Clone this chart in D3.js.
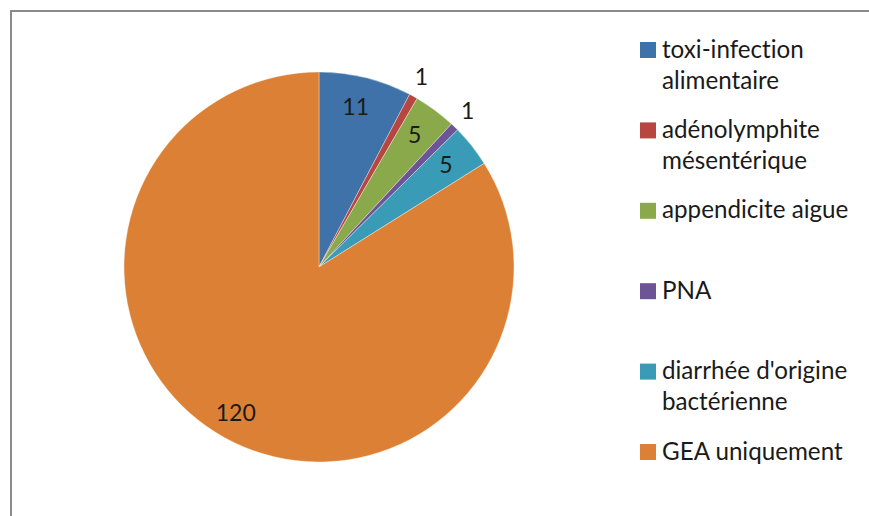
<!DOCTYPE html>
<html>
<head>
<meta charset="utf-8">
<script src="https://cdn.jsdelivr.net/npm/d3@7"></script>
<style>
  html, body { margin: 0; padding: 0; background: #fff; }
  svg { display: block; }
  text { font-family: Lato, "Open Sans", sans-serif; fill: #1a1a1a; font-variant-ligatures: none; font-feature-settings: "liga" 0; }
</style>
</head>
<body>
<svg id="chart" width="869" height="516"></svg>
<script>
// Diagnoses and number of cases
const categories = [
  ["toxi-infection", "alimentaire"],
  ["adénolymphite", "mésentérique"],
  ["appendicite aigue"],
  ["PNA"],
  ["diarrhée d'origine", "bactérienne"],
  ["GEA uniquement"]
];
const counts = [11, 1, 5, 1, 5, 120];
const colors = ["#3f72a9", "#b6463f", "#8aa94b", "#6d5496", "#3a9bb6", "#dc8035"];
// small slices get their value printed outside the pie
const outsideLabel = [false, true, false, true, false, false];

const svg = d3.select("#chart");
const W = 869, H = 516;

// chart frame (runs past the right and bottom edges)
svg.append("rect")
  .attr("x", 11).attr("y", 11)
  .attr("width", W + 20).attr("height", H + 20)
  .attr("fill", "none")
  .attr("stroke", "#8a8a8a")
  .attr("stroke-width", 2);

const cx = 319, cy = 267, R = 195;
const data = counts.map((v, i) => ({ name: categories[i], value: v, color: colors[i], outside: outsideLabel[i] }));

const pie = d3.pie().value(d => d.value).sort(null).startAngle(0).endAngle(2 * Math.PI);
const arcs = pie(data);
const arc = d3.arc().innerRadius(0).outerRadius(R);
const inLabelArc = d3.arc().innerRadius(R * 0.85).outerRadius(R * 0.85);
const outLabelArc = d3.arc().innerRadius(R + 23).outerRadius(R + 23);

const g = svg.append("g").attr("transform", `translate(${cx},${cy})`);

g.selectAll("path.slice")
  .data(arcs)
  .join("path")
  .attr("class", "slice")
  .attr("d", arc)
  .attr("fill", d => d.data.color)
  .attr("stroke", "#ffffff")
  .attr("stroke-width", 0.6)
  .attr("stroke-opacity", 0.6);

g.selectAll("text.val")
  .data(arcs)
  .join("text")
  .attr("class", "val")
  .attr("transform", d => {
    const c = (d.data.outside ? outLabelArc : inLabelArc).centroid(d);
    return `translate(${c[0] - 3},${c[1]})`;
  })
  .attr("text-anchor", "middle")
  .attr("dominant-baseline", "central")
  .style("font-size", "23px")
  .text(d => d.data.value);

// legend
const legX = 640, legTop = 42, legStep = 80.4, sw = 16, lineH = 31;
const leg = svg.append("g");
data.forEach((d, i) => {
  const y0 = legTop + i * legStep;
  leg.append("rect")
    .attr("x", legX).attr("y", y0)
    .attr("width", sw).attr("height", sw)
    .attr("fill", d.color);
  const t = leg.append("text")
    .attr("x", legX + 22)
    .attr("y", y0 + 15.5)
    .style("font-size", "24.2px");
  d.name.forEach((line, j) => {
    t.append("tspan")
      .attr("x", legX + 22)
      .attr("dy", j === 0 ? 0 : lineH)
      .text(line);
  });
});
</script>
</body>
</html>
